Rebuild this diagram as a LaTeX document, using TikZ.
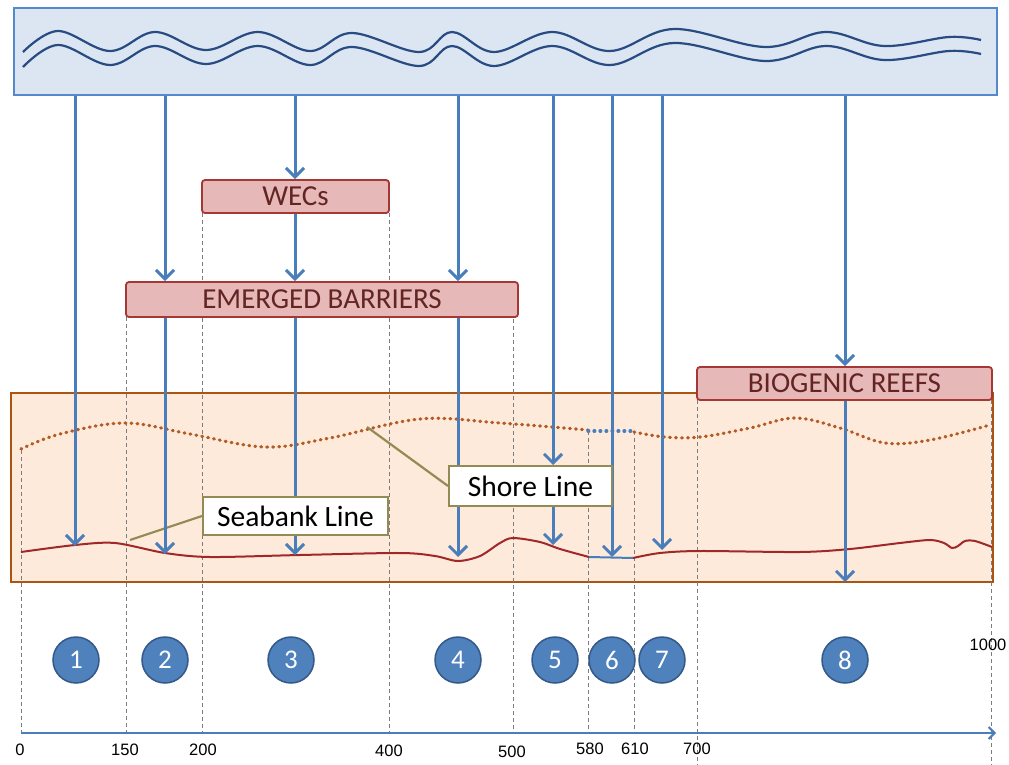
\documentclass[tikz,border=0pt]{standalone}
\usepackage{fontspec}
\setmainfont{Carlito}
\newfontfamily\arialf{Liberation Sans}
\usetikzlibrary{arrows.meta}
\definecolor{topfill}{RGB}{220,230,242}
\definecolor{topdraw}{RGB}{84,138,204}
\definecolor{wave}{RGB}{40,75,130}
\definecolor{arrblue}{RGB}{74,126,187}
\definecolor{redfill}{RGB}{230,184,183}
\definecolor{reddraw}{RGB}{165,55,52}
\definecolor{redtext}{RGB}{99,37,35}
\definecolor{seafill}{RGB}{253,234,218}
\definecolor{seadraw}{RGB}{170,85,20}
\definecolor{shore}{RGB}{180,90,35}
\definecolor{seabank}{RGB}{160,40,40}
\definecolor{callout}{RGB}{148,138,84}
\definecolor{circfill}{RGB}{79,129,189}
\definecolor{circdraw}{RGB}{52,88,135}
\definecolor{dashgray}{RGB}{125,125,125}
\tikzset{
  arr/.style={draw=arrblue, line width=3pt, -{Straight Barb[length=9pt,width=18pt,line width=3pt]}},
  redbox/.style={draw=reddraw, fill=redfill, line width=1.8pt, rounded corners=3pt, inner sep=0pt, text=redtext, font=\fontsize{29}{31}\selectfont},
  calloutbox/.style={draw=callout, fill=white, line width=2pt, inner sep=0pt, font=\fontsize{29.5}{31}\selectfont},
  calloutline/.style={draw=callout, line width=2.2pt},
  num/.style={circle, fill=circfill, draw=circdraw, line width=1.5pt, minimum size=46pt, inner sep=0pt, text=white, font=\fontsize{27}{29}\selectfont},
  guide/.style={draw=dashgray, line width=0.8pt, dash pattern=on 4pt off 3pt},
  ticklabel/.style={font=\arialf\fontsize{16.5}{18}\selectfont, inner sep=0pt},
  shoredots/.style={line width=3.2pt, dash pattern=on 0.8pt off 5.2pt, line cap=round},
}
\begin{document}
\begin{tikzpicture}[x=1pt,y=-1pt]
\useasboundingbox (0,0) rectangle (1009,765);
% top sea box
\node[draw=topdraw, fill=topfill, line width=2pt, minimum width=983pt, minimum height=87pt, inner sep=0pt] (top) at (505.5,51.5) {};
\draw[wave, line width=2.2pt] plot[smooth, tension=0.6] coordinates {(23,52) (58,31) (110,51) (155,32) (206,50) (258,32) (310,51) (352,33) (419,52) (452,32) (494,52) (552,32) (610,51) (674,29) (765,47) (826,32) (884,46) (949,37) (981,40)};
\draw[wave, line width=2.2pt] plot[smooth, tension=0.6] coordinates {(23,67) (58,45) (110,65) (155,46) (206,64) (258,46) (310,65) (352,47) (419,66) (452,46) (494,66) (552,46) (610,65) (674,43) (765,61) (826,46) (884,60) (949,51) (981,54)};
% sea-bed box
\node[draw=seadraw, fill=seafill, line width=2pt, minimum width=982pt, minimum height=189pt, inner sep=0pt] (sea) at (502,487.5) {};
% guide coordinates
\coordinate (g0t) at (21,450);   \coordinate (g0b) at (21,737);
\coordinate (g150t) at (126,317); \coordinate (g150b) at (126,733);
\coordinate (g200t) at (202,213); \coordinate (g200b) at (202,733);
\coordinate (g400t) at (389,213); \coordinate (g400b) at (389,733);
\coordinate (g500t) at (513,305); \coordinate (g500b) at (513,733);
\coordinate (g580t) at (588,431); \coordinate (g580b) at (588,733);
\coordinate (g610t) at (634,431); \coordinate (g610b) at (634,733);
\coordinate (g700t) at (697,400); \coordinate (g700b) at (697,765);
\coordinate (g1000t) at (991,400); \coordinate (g1000b) at (991,765);
\foreach \g in {0,150,200,400,500,580,610,700,1000}{\draw[guide] (g\g t) -- (g\g b);}
% shore line
\draw[shore, shoredots] plot[smooth, tension=0.6] coordinates {(21,449) (60,434) (125,423) (190,434) (265,447) (330,438) (420,419) (500,423) (588,430)};
\draw[arrblue, shoredots] (588,431) -- (634,431);
\draw[shore, shoredots] plot[smooth, tension=0.6] coordinates {(634,432) (665,437) (700,437) (750,428) (795,418) (840,428) (885,443) (930,440) (990,425)};
% seabank line
\draw[seabank, line width=2pt] plot[smooth, tension=0.5] coordinates {(21,552) (75,545) (115,543) (165,553) (210,557) (300,555) (400,553) (435,556) (458,561) (480,556) (500,543) (513,538) (540,542) (560,549) (589,557)};
\draw[arrblue, line width=2pt] (589,557) -- (633,558);
\draw[seabank, line width=2pt] plot[smooth, tension=0.5] coordinates {(633,558) (660,553) (700,551) (800,552) (850,549) (900,543) (930,540) (944,543) (952,548) (958,546) (965,541) (975,541) (992,547)};
% callouts
\node[calloutbox, minimum width=185pt, minimum height=38pt] (seabanklbl) at (295.5,516) {Seabank Line};
\node[calloutbox, minimum width=163pt, minimum height=40pt] (shorelbl) at (530.5,486) {Shore Line};
\coordinate (sbpt) at (130,540);
\coordinate (shpt) at (367,427);
\draw[calloutline] (seabanklbl.west) -- (sbpt);
\draw[calloutline] (shorelbl.west) -- (shpt);
% structure boxes
\node[redbox, minimum width=187pt, minimum height=33pt] (wecs) at (295.5,196.5) {WECs};
\node[redbox, minimum width=392pt, minimum height=35pt] (eb) at (322,299.5) {EMERGED BARRIERS};
\node[redbox, minimum width=295pt, minimum height=33pt] (br) at (844.5,383.5) {BIOGENIC REEFS};
% arrow end points
\coordinate (e1) at (75,546);
\coordinate (e2) at (165,554);
\coordinate (e3) at (295,555);
\coordinate (e4) at (458,557);
\coordinate (e5) at (553,545);
\coordinate (e6) at (612,557);
\coordinate (e7) at (662,550);
\coordinate (e8) at (845,582);
% arrows
\draw[arr] (top.south -| e1) -- (e1);
\draw[arr] (top.south -| e2) -- (eb.north -| e2);
\draw[arr] (eb.south -| e2) -- (e2);
\draw[arr] (top.south -| e3) -- (wecs.north -| e3);
\draw[arr] (wecs.south -| e3) -- (eb.north -| e3);
\draw[arr] (eb.south -| e3) -- (e3);
\draw[arr] (top.south -| e4) -- (eb.north -| e4);
\draw[arr] (eb.south -| e4) -- (e4);
\draw[arr] (top.south -| e5) -- (shorelbl.north -| e5);
\draw[arr] (shorelbl.south -| e5) -- (e5);
\draw[arr] (top.south -| e6) -- (e6);
\draw[arr] (top.south -| e7) -- (e7);
\draw[arr] (top.south -| e8) -- (br.north -| e8);
\draw[arr] (br.south -| e8) -- (e8);
% re-draw callout boxes over arrows
\node[calloutbox, minimum width=185pt, minimum height=38pt] at (seabanklbl) {Seabank Line};
\node[calloutbox, minimum width=163pt, minimum height=40pt] at (shorelbl) {Shore Line};
% numbered circles
\node[num] (n1) at (76,660) {1};
\node[num] (n2) at (165,660) {2};
\node[num] (n3) at (291,660) {3};
\node[num] (n4) at (458,660) {4};
\node[num] (n5) at (555,660) {5};
\node[num] (n6) at (612,660) {6};
\node[num] (n7) at (662,660) {7};
\node[num] (n8) at (845,660) {8};
% axis
\coordinate (ax0) at (21,733);
\coordinate (ax1) at (996,733);
\draw[arrblue, line width=2pt, -{Straight Barb[length=6pt,width=12pt,line width=2pt]}] (ax0) -- (ax1);
\node[ticklabel] (t0) at (20,750) {0};
\node[ticklabel] (t150) at (125,750) {150};
\node[ticklabel] (t200) at (203,750) {200};
\node[ticklabel] (t400) at (389,751) {400};
\node[ticklabel] (t500) at (512,752) {500};
\node[ticklabel] (t580) at (590,749) {580};
\node[ticklabel] (t610) at (635,749) {610};
\node[ticklabel] (t700) at (697,749) {700};
\node[ticklabel] (t1000) at (988,645) {1000};
\end{tikzpicture}
\end{document}
